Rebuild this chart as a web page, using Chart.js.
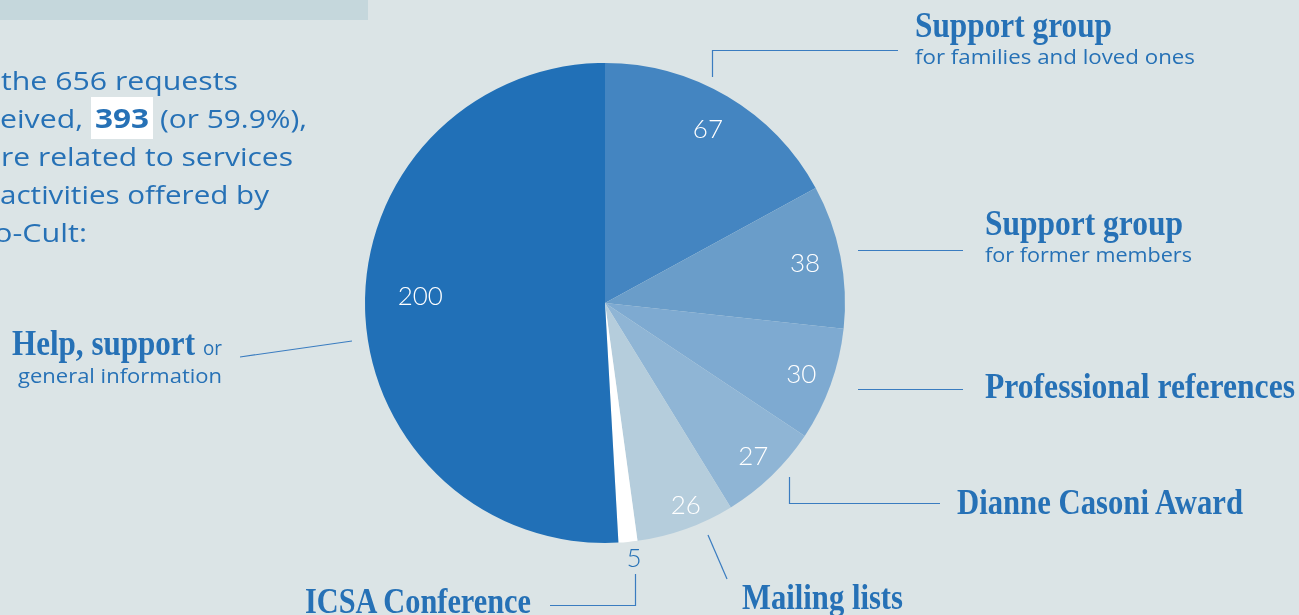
<!DOCTYPE html>
<html><head><meta charset="utf-8">
<script src="https://cdn.jsdelivr.net/npm/chart.js@4.4.1/dist/chart.umd.min.js"></script>
<style>
html,body{margin:0;padding:0;background:#dbe4e6;}
#wrap{position:relative;width:1299px;height:615px;overflow:hidden;background:#dbe4e6;}
#c{position:absolute;left:0;top:0;}
#ov{position:absolute;left:0;top:0;}
.h{font-family:"Liberation Serif","Times New Roman",serif;font-weight:700;fill:#2671b6;font-size:35px;}
.s{font-family:"Open Sans",sans-serif;fill:#2671b6;}
.ln{stroke:#3a7cc0;stroke-width:1.2;fill:none;}
</style></head>
<body>
<div id="wrap">
<canvas id="c" width="1299" height="615"></canvas>
<svg id="ov" width="1299" height="615" xmlns="http://www.w3.org/2000/svg">
  <rect x="0" y="0" width="368" height="20" fill="#c5d7dc"/>
  <!-- intro paragraph -->
  <text class="s" x="1" y="90" font-size="26" textLength="237" lengthAdjust="spacingAndGlyphs">the 656 requests</text>
  <text class="s" x="0" y="128" font-size="26" textLength="83" lengthAdjust="spacingAndGlyphs">eived,</text>
  <rect x="91" y="97" width="62" height="42" fill="#ffffff"/>
  <text class="s" x="95" y="128" font-size="26" font-weight="700" textLength="54" lengthAdjust="spacingAndGlyphs">393</text>
  <text class="s" x="160" y="128" font-size="26" textLength="147" lengthAdjust="spacingAndGlyphs">(or 59.9%),</text>
  <text class="s" x="1" y="166" font-size="26" textLength="292" lengthAdjust="spacingAndGlyphs">re related to services</text>
  <text class="s" x="0" y="204" font-size="26" textLength="269" lengthAdjust="spacingAndGlyphs">activities offered by</text>
  <text class="s" x="-6" y="242" font-size="26" textLength="93" lengthAdjust="spacingAndGlyphs">o-Cult:</text>

  <!-- category labels -->
  <text class="h" x="915" y="37" textLength="197" lengthAdjust="spacingAndGlyphs">Support group</text>
  <text class="s" x="915" y="64" font-size="20" textLength="280" lengthAdjust="spacingAndGlyphs">for families and loved ones</text>

  <text class="h" x="985" y="235" textLength="198" lengthAdjust="spacingAndGlyphs">Support group</text>
  <text class="s" x="985" y="262" font-size="20" textLength="207" lengthAdjust="spacingAndGlyphs">for former members</text>

  <text class="h" x="985" y="398" textLength="310" lengthAdjust="spacingAndGlyphs">Professional references</text>
  <text class="h" x="957" y="514" textLength="286" lengthAdjust="spacingAndGlyphs">Dianne Casoni Award</text>
  <text class="h" x="742" y="609" textLength="161" lengthAdjust="spacingAndGlyphs">Mailing lists</text>
  <text class="h" x="305" y="613" textLength="226" lengthAdjust="spacingAndGlyphs">ICSA Conference</text>

  <text class="h" x="12" y="355" textLength="183" lengthAdjust="spacingAndGlyphs">Help, support</text>
  <text class="s" x="203" y="355" font-size="20" textLength="19" lengthAdjust="spacingAndGlyphs">or</text>
  <text class="s" x="18" y="383" font-size="20" textLength="204" lengthAdjust="spacingAndGlyphs">general information</text>

  <!-- leader lines -->
  <polyline class="ln" points="712.5,77 712.5,50.5 898,50.5"/>
  <line class="ln" x1="858" y1="250.5" x2="963" y2="250.5"/>
  <line class="ln" x1="858" y1="389.5" x2="963" y2="389.5"/>
  <polyline class="ln" points="789.5,477 789.5,503.5 940,503.5"/>
  <line class="ln" x1="708" y1="535" x2="727" y2="579"/>
  <polyline class="ln" points="635.5,574 635.5,605.5 550,605.5"/>
  <line class="ln" x1="240" y1="357" x2="352" y2="341"/>
</svg>
</div>
<script>
// ---- data ----
const categories = [
  "Support group for families and loved ones",
  "Support group for former members",
  "Professional references",
  "Dianne Casoni Award",
  "Mailing lists",
  "ICSA Conference",
  "Help, support or general information"
];
const values = [67, 38, 30, 27, 26, 5, 200];

// ---- style ----
const sliceColors = ["#4485c1", "#6a9dc9", "#7eaad1", "#8fb5d5", "#b5cddc", "#ffffff", "#2170b7"];
const labelColors = ["#fff", "#fff", "#fff", "#fff", "#fff", "#2671b6", "#fff"];
const labelRadius = [0.84, 0.85, 0.87, 0.89, 0.91, 1.07, 0.77];
const labelAngleOffset = [0, 0, 0, 0, -2, -1, 3.6]; // degrees

const valueLabels = {
  id: "valueLabels",
  afterDatasetsDraw(chart) {
    const ctx = chart.ctx;
    const meta = chart.getDatasetMeta(0);
    ctx.save();
    ctx.font = '300 26px "Lato", "Open Sans", sans-serif';
    ctx.textAlign = "center";
    ctx.textBaseline = "middle";
    meta.data.forEach((arc, i) => {
      const p = arc.getProps(["x", "y", "startAngle", "endAngle", "outerRadius"], true);
      const a = (p.startAngle + p.endAngle) / 2 + labelAngleOffset[i] * Math.PI / 180;
      const r = p.outerRadius * labelRadius[i];
      ctx.fillStyle = labelColors[i];
      ctx.fillText(String(values[i]), p.x + Math.cos(a) * r, p.y + Math.sin(a) * r);
    });
    ctx.restore();
  }
};

new Chart(document.getElementById("c"), {
  type: "pie",
  data: {
    labels: categories,
    datasets: [{
      data: values,
      backgroundColor: sliceColors,
      borderWidth: 0
    }]
  },
  options: {
    responsive: false,
    animation: false,
    layout: { padding: { left: 365, right: 454, top: 63, bottom: 72 } },
    plugins: { legend: { display: false }, tooltip: { enabled: false } }
  },
  plugins: [valueLabels]
});
</script>
</body></html>
